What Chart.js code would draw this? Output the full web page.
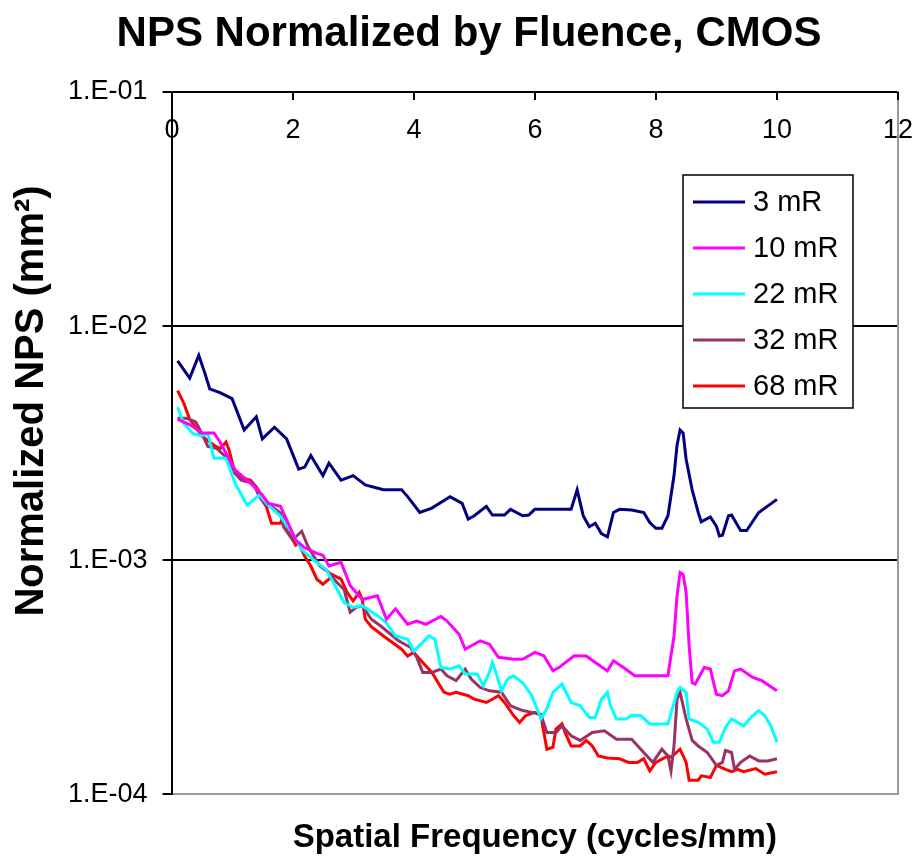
<!DOCTYPE html>
<html>
<head>
<meta charset="utf-8">
<script src="https://cdn.jsdelivr.net/npm/chart.js@4.4.1/dist/chart.umd.min.js"></script>
<style>
  body { margin: 0; background: #fff; }
</style>
</head>
<body>
<canvas id="npsChart" width="912" height="858"></canvas>
<script>
// spatial frequency (cycles/mm) and normalized NPS (mm^2) per exposure
const freq3 = [0.1,0.3,0.45,0.55,0.63,0.8,1.0,1.2,1.4,1.5,1.7,1.9,2.1,2.2,2.3,2.5,2.6,2.8,3.0,3.2,3.5,3.8,3.9,4.1,4.3,4.6,4.8,4.9,5.0,5.2,5.3,5.5,5.6,5.8,5.9,6.0,6.6,6.7,6.8,6.9,7.0,7.1,7.2,7.3,7.4,7.6,7.8,7.9,8.0,8.1,8.2,8.3,8.35,8.4,8.45,8.5,8.6,8.7,8.75,8.9,9.0,9.05,9.1,9.2,9.25,9.4,9.5,9.7,10.0];
const nps3 = [7.1e-3,6.0e-3,7.5e-3,6.3e-3,5.4e-3,5.2e-3,4.9e-3,3.6e-3,4.1e-3,3.3e-3,3.7e-3,3.3e-3,2.45e-3,2.5e-3,2.8e-3,2.3e-3,2.6e-3,2.2e-3,2.3e-3,2.1e-3,2.0e-3,2.0e-3,1.87e-3,1.6e-3,1.67e-3,1.87e-3,1.75e-3,1.5e-3,1.55e-3,1.7e-3,1.56e-3,1.56e-3,1.65e-3,1.55e-3,1.56e-3,1.65e-3,1.65e-3,2.0e-3,1.55e-3,1.39e-3,1.44e-3,1.3e-3,1.26e-3,1.6e-3,1.65e-3,1.64e-3,1.6e-3,1.45e-3,1.37e-3,1.37e-3,1.55e-3,2.3e-3,3.1e-3,3.6e-3,3.5e-3,2.7e-3,2.0e-3,1.6e-3,1.46e-3,1.53e-3,1.4e-3,1.27e-3,1.28e-3,1.55e-3,1.56e-3,1.34e-3,1.34e-3,1.6e-3,1.82e-3];

const freq10 = [0.1,0.3,0.5,0.7,0.8,1.05,1.3,1.5,1.6,1.8,1.9,2.05,2.2,2.4,2.5,2.6,2.8,2.95,3.15,3.4,3.55,3.7,3.9,4.05,4.2,4.45,4.55,4.75,4.85,5.1,5.25,5.4,5.65,5.8,6.0,6.15,6.3,6.4,6.65,6.85,7.0,7.2,7.3,7.5,7.65,8.2,8.3,8.35,8.4,8.45,8.5,8.55,8.6,8.65,8.8,8.9,9.0,9.1,9.2,9.3,9.4,9.6,9.75,10.0];
const nps10 = [4.0e-3,3.8e-3,3.5e-3,3.5e-3,3.2e-3,2.43e-3,2.14e-3,1.9e-3,1.75e-3,1.7e-3,1.49e-3,1.22e-3,1.13e-3,1.07e-3,1.05e-3,9.45e-4,9.8e-4,7.8e-4,6.8e-4,7.05e-4,5.6e-4,6.2e-4,5.33e-4,5.5e-4,5.33e-4,5.75e-4,5.5e-4,4.83e-4,4.17e-4,4.53e-4,4.38e-4,3.85e-4,3.78e-4,3.78e-4,4.04e-4,3.91e-4,3.37e-4,3.48e-4,3.91e-4,3.9e-4,3.66e-4,3.37e-4,3.72e-4,3.43e-4,3.21e-4,3.21e-4,4.75e-4,7.05e-4,8.87e-4,8.7e-4,7.3e-4,4.31e-4,3.0e-4,2.96e-4,3.48e-4,3.43e-4,2.68e-4,2.64e-4,2.77e-4,3.37e-4,3.43e-4,3.16e-4,3.06e-4,2.77e-4];

const freq22 = [0.1,0.2,0.35,0.5,0.6,0.7,0.9,1.05,1.25,1.45,1.6,1.8,2.0,2.15,2.35,2.55,2.7,2.85,3.0,3.15,3.4,3.55,3.7,3.9,4.0,4.15,4.25,4.35,4.45,4.6,4.75,4.85,5.05,5.15,5.25,5.3,5.35,5.45,5.55,5.65,5.8,5.95,6.05,6.1,6.2,6.3,6.45,6.6,6.75,6.9,7.0,7.1,7.2,7.25,7.35,7.5,7.6,7.75,7.9,8.2,8.35,8.4,8.5,8.55,8.7,8.85,8.95,9.05,9.15,9.25,9.4,9.45,9.6,9.7,9.8,9.9,10.0];
const nps22 = [4.5e-3,3.85e-3,3.48e-3,3.4e-3,3.48e-3,2.73e-3,2.73e-3,2.13e-3,1.72e-3,1.9e-3,1.72e-3,1.54e-3,1.3e-3,1.11e-3,1.0e-3,9.15e-4,7.8e-4,6.6e-4,6.3e-4,6.4e-4,5.8e-4,5.4e-4,4.75e-4,4.6e-4,4.1e-4,4.46e-4,4.75e-4,4.6e-4,3.48e-4,3.43e-4,3.54e-4,3.27e-4,3.27e-4,2.91e-4,3.32e-4,3.66e-4,3.37e-4,2.77e-4,3.11e-4,3.21e-4,3.0e-4,2.64e-4,2.28e-4,2.1e-4,2.32e-4,2.73e-4,2.96e-4,2.47e-4,2.39e-4,2.13e-4,2.13e-4,2.55e-4,2.73e-4,2.39e-4,2.1e-4,2.1e-4,2.17e-4,2.17e-4,2.0e-4,2.0e-4,2.73e-4,2.86e-4,2.73e-4,2.1e-4,2.03e-4,1.9e-4,1.67e-4,1.67e-4,1.93e-4,2.1e-4,2.0e-4,1.96e-4,2.17e-4,2.28e-4,2.17e-4,1.96e-4,1.67e-4];

const freq32 = [0.1,0.25,0.4,0.5,0.6,0.75,0.95,1.05,1.15,1.35,1.45,1.55,1.65,1.8,1.85,2.0,2.15,2.25,2.35,2.45,2.6,2.7,2.85,2.95,3.05,3.15,3.3,3.45,3.75,3.95,4.05,4.15,4.3,4.45,4.55,4.7,4.85,4.95,5.1,5.25,5.45,5.6,5.8,5.95,6.1,6.2,6.35,6.45,6.6,6.75,6.95,7.15,7.35,7.6,7.8,7.95,8.1,8.2,8.25,8.3,8.35,8.4,8.5,8.6,8.7,8.85,9.0,9.1,9.15,9.25,9.3,9.4,9.55,9.7,9.85,10.0];
const nps32 = [4.04e-3,4.04e-3,3.9e-3,3.48e-3,3.06e-3,3.0e-3,2.68e-3,2.35e-3,2.2e-3,2.13e-3,1.87e-3,1.72e-3,1.7e-3,1.59e-3,1.39e-3,1.22e-3,1.33e-3,1.15e-3,1.04e-3,9.45e-4,8.87e-4,8.2e-4,7.5e-4,6.0e-4,6.3e-4,6.4e-4,5.6e-4,5.25e-4,4.53e-4,4.24e-4,3.85e-4,3.32e-4,3.32e-4,3.43e-4,3.21e-4,3.06e-4,3.43e-4,3.11e-4,2.86e-4,2.77e-4,2.73e-4,2.39e-4,2.28e-4,2.24e-4,2.2e-4,1.84e-4,1.84e-4,1.96e-4,1.78e-4,1.7e-4,1.84e-4,1.87e-4,1.72e-4,1.72e-4,1.51e-4,1.37e-4,1.56e-4,1.46e-4,1.26e-4,1.61e-4,2.55e-4,2.73e-4,2.1e-4,1.7e-4,1.61e-4,1.51e-4,1.33e-4,1.37e-4,1.54e-4,1.51e-4,1.28e-4,1.37e-4,1.46e-4,1.39e-4,1.39e-4,1.42e-4];

const freq68 = [0.1,0.2,0.3,0.4,0.5,0.7,0.8,0.9,0.95,1.05,1.15,1.3,1.4,1.5,1.55,1.65,1.8,1.85,1.95,2.05,2.1,2.2,2.3,2.4,2.5,2.6,2.65,2.8,2.9,3.0,3.1,3.15,3.2,3.3,3.5,3.8,3.9,4.0,4.15,4.3,4.5,4.6,4.7,4.9,5.0,5.2,5.3,5.4,5.5,5.65,5.75,5.85,6.0,6.1,6.2,6.3,6.35,6.45,6.5,6.6,6.75,6.85,6.95,7.05,7.2,7.4,7.55,7.7,7.8,7.9,8.0,8.2,8.25,8.4,8.5,8.55,8.7,8.75,8.9,9.0,9.15,9.25,9.35,9.45,9.65,9.8,10.0];
const nps68 = [5.3e-3,4.7e-3,4.0e-3,3.7e-3,3.4e-3,3.1e-3,3.0e-3,3.2e-3,2.96e-3,2.35e-3,2.25e-3,2.2e-3,2.06e-3,1.87e-3,1.75e-3,1.44e-3,1.44e-3,1.54e-3,1.3e-3,1.16e-3,1.18e-3,1.04e-3,9.45e-4,8.3e-4,7.9e-4,8.3e-4,8.7e-4,8.3e-4,7.3e-4,6.7e-4,7.3e-4,6.8e-4,5.6e-4,5.2e-4,4.75e-4,4.17e-4,3.9e-4,4.04e-4,3.66e-4,3.32e-4,2.73e-4,2.68e-4,2.73e-4,2.64e-4,2.55e-4,2.47e-4,2.55e-4,2.64e-4,2.47e-4,2.17e-4,2.03e-4,2.17e-4,2.24e-4,2.17e-4,1.56e-4,1.59e-4,1.9e-4,2.0e-4,1.84e-4,1.61e-4,1.61e-4,1.7e-4,1.61e-4,1.46e-4,1.43e-4,1.42e-4,1.37e-4,1.37e-4,1.42e-4,1.26e-4,1.37e-4,1.46e-4,1.44e-4,1.56e-4,1.37e-4,1.15e-4,1.15e-4,1.2e-4,1.18e-4,1.33e-4,1.28e-4,1.25e-4,1.28e-4,1.25e-4,1.29e-4,1.22e-4,1.25e-4];

const seriesLabels = ['3 mR', '10 mR', '22 mR', '32 mR', '68 mR'];
const seriesColors = ['#000080', '#FF00FF', '#00FFFF', '#993366', '#FF0000'];
const xTicks = [0, 2, 4, 6, 8, 10, 12];
const yTicks = [1e-4, 1e-3, 1e-2, 1e-1];
const yTickLabels = ['1.E-04', '1.E-03', '1.E-02', '1.E-01'];
const titleText = 'NPS Normalized by Fluence, CMOS';
const yTitleText = 'Normalized NPS (mm\u00B2)';

const FONT = '"Liberation Sans", Arial, sans-serif';
Chart.defaults.font.family = FONT;
Chart.defaults.color = '#000';

function toPoints(fs, vs) {
    return fs.map((f, i) => ({ x: f, y: vs[i] }));
}

const allFreq = [freq3, freq10, freq22, freq32, freq68];
const allNps = [nps3, nps10, nps22, nps32, nps68];

const datasets = seriesLabels.map((label, i) => ({
    label: label,
    data: toPoints(allFreq[i], allNps[i]),
    borderColor: seriesColors[i],
    backgroundColor: seriesColors[i],
    borderWidth: 3,
    pointRadius: 0,
    tension: 0,
    xAxisID: 'x',
    yAxisID: 'y'
}));

// titles, x tick marks/labels inside the top axis, and the legend box
const decorations = {
    id: 'decorations',
    afterDraw(chart) {
        const { ctx, chartArea, scales } = chart;
        ctx.save();

        // chart title
        ctx.fillStyle = '#000';
        ctx.font = 'bold 42px ' + FONT;
        ctx.textAlign = 'center';
        ctx.textBaseline = 'middle';
        ctx.fillText(titleText, 469, 34);

        // y title (sits a bit above the plot centre, like the original)
        ctx.save();
        ctx.translate(32, 401);
        ctx.rotate(-Math.PI / 2);
        ctx.font = 'bold 40px ' + FONT;
        ctx.fillText(yTitleText, 0, 0);
        ctx.restore();

        // x ticks hang down from the top axis, labels just below
        ctx.strokeStyle = '#000';
        ctx.lineWidth = 2;
        ctx.font = '27px ' + FONT;
        xTicks.forEach(v => {
            const px = Math.round(scales.x.getPixelForValue(v));
            ctx.beginPath();
            ctx.moveTo(px, chartArea.top);
            ctx.lineTo(px, chartArea.top + 8);
            ctx.stroke();
            ctx.fillText(String(v), px, chartArea.top + 39);
        });

        // legend
        const left = chartArea.right - 215, top = chartArea.top + 83;
        const w = 170, h = 233, rowH = 46;
        ctx.fillStyle = '#fff';
        ctx.fillRect(left, top, w, h);
        ctx.strokeStyle = '#000';
        ctx.lineWidth = 1.5;
        ctx.strokeRect(left, top, w, h);
        ctx.font = '29px ' + FONT;
        ctx.textAlign = 'left';
        chart.data.datasets.forEach((ds, i) => {
            const y = top + 27 + i * rowH;
            ctx.strokeStyle = ds.borderColor;
            ctx.lineWidth = 3;
            ctx.beginPath();
            ctx.moveTo(left + 10, y);
            ctx.lineTo(left + 62, y);
            ctx.stroke();
            ctx.fillStyle = '#000';
            ctx.fillText(ds.label, left + 70, y + 1);
        });
        ctx.restore();
    }
};

new Chart(document.getElementById('npsChart'), {
    type: 'line',
    data: { datasets: datasets },
    options: {
        responsive: false,
        animation: false,
        devicePixelRatio: 1,
        layout: { padding: { left: 53, right: 14, top: 92, bottom: 0 } },
        plugins: {
            legend: { display: false },
            tooltip: { enabled: false },
            title: { display: false }
        },
        scales: {
            x: {
                type: 'linear',
                position: 'top',
                min: 0,
                max: 12,
                ticks: { display: false },
                grid: { display: false, drawTicks: false },
                border: { color: '#000', width: 2 }
            },
            xBottom: {
                type: 'linear',
                position: 'bottom',
                min: 0,
                max: 12,
                ticks: { display: false },
                grid: { display: false, drawTicks: false },
                border: { color: '#999', width: 2 },
                title: {
                    display: true,
                    text: 'Spatial Frequency (cycles/mm)',
                    font: { size: 33, weight: 'bold' },
                    padding: { top: 24, bottom: 0 }
                }
            },
            y: {
                type: 'logarithmic',
                position: 'left',
                min: 1e-4,
                max: 1e-1,
                afterBuildTicks: axis => {
                    axis.ticks = yTicks.map(v => ({ value: v }));
                },
                ticks: {
                    font: { size: 27 },
                    padding: 15,
                    callback: (value, index) => yTickLabels[index]
                },
                grid: {
                    color: c => (c.tick && (c.tick.value === 1e-2 || c.tick.value === 1e-3)) ? '#000' : 'rgba(0,0,0,0)',
                    tickColor: '#000',
                    lineWidth: 2,
                    tickLength: 9
                },
                border: { color: '#000', width: 2 }
            },
            yRight: {
                type: 'linear',
                position: 'right',
                display: true,
                ticks: { display: false },
                grid: { display: false, drawTicks: false },
                border: { color: '#999', width: 2 }
            }
        }
    },
    plugins: [decorations]
});
</script>
</body>
</html>
